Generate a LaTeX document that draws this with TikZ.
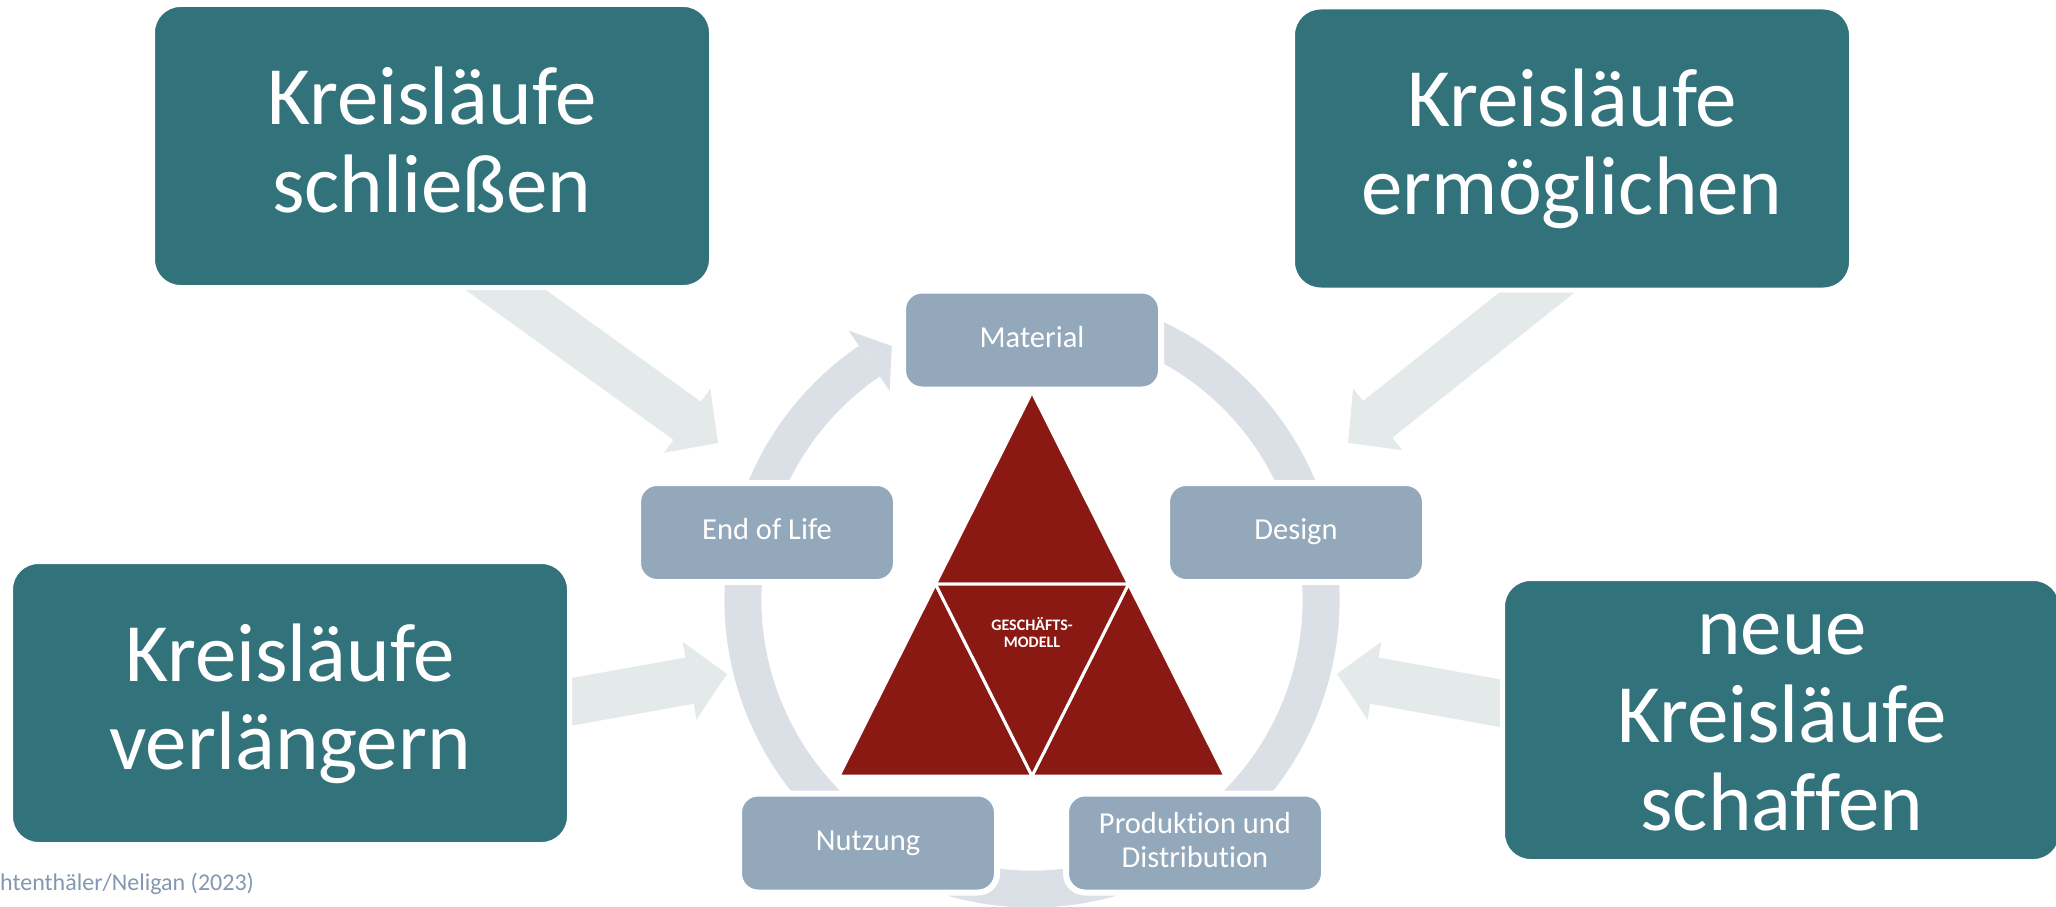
\documentclass[tikz,border=0pt]{standalone}
\usepackage{fontspec}
\setmainfont{Carlito}[Ligatures=NoCommon]
\usetikzlibrary{calc}
\definecolor{tealc}{HTML}{32727B}
\definecolor{boxc}{HTML}{94A8BB}
\definecolor{ringc}{HTML}{DBE0E7}
\definecolor{arrowc}{HTML}{E4EAEA}
\definecolor{redc}{HTML}{8A1913}
\definecolor{creditc}{HTML}{8497B0}
\newcommand\tstrut{\rule[-22pt]{0pt}{88pt}}
\newcommand\sstrut{\rule[-10pt]{0pt}{34pt}}
\newcommand\gstrut{\rule[-4pt]{0pt}{17pt}}
\newcommand\fatarrow[3]{%
  \coordinate (#3b) at ($(#2)!38pt!(#1)$);
  \fill[bigarrow] ($(#1)!23.5pt!90:(#2)$) -- ($(#3b)!23.5pt!90:(#2)$) -- ($(#3b)!39.5pt!90:(#2)$) -- (#2)
    -- ($(#3b)!39.5pt!-90:(#2)$) -- ($(#3b)!23.5pt!-90:(#2)$) -- ($(#1)!23.5pt!-90:(#2)$) -- cycle;}
\begin{document}
\begin{tikzpicture}[x=1pt,y=1pt,
  tealbox/.style={fill=tealc, draw=white, line width=5pt, rounded corners=28pt,
    minimum width=559pt, minimum height=283pt, inner sep=0pt, text=white,
    font=\fontsize{83}{88}\selectfont, align=center},
  smallbox/.style={fill=boxc, draw=white, line width=6pt, rounded corners=19pt,
    minimum width=258pt, minimum height=99pt, inner sep=0pt, text=white,
    font=\fontsize{30.5}{34}\selectfont, align=center},
  ringline/.style={draw=ringc, line width=37pt},
  bigarrow/.style={fill=arrowc},
  tri/.style={fill=redc, draw=white, line width=3pt, line join=miter}]
\useasboundingbox (0,0) rectangle (2056,-907);
% ring (continuous cycle arrow)
\coordinate (C) at (1032,-600);
\draw[ringline] ($(C)+(70:289)$) arc[start angle=70, end angle=-235.75, radius=289];
\fill[ringc] ($(C)+(124.25:253)$) -- ($(C)+(118.9:290)$) -- ($(C)+(124.25:326)$) -- cycle;
% big arrows
\coordinate (tlS) at (442,-244);  \coordinate (tlT) at (718,-443);
\coordinate (trS) at (1614,-231); \coordinate (trT) at (1348,-443);
\coordinate (lmS) at (481,-718);  \coordinate (lmT) at (727,-674);
\coordinate (rmS) at (1583,-718); \coordinate (rmT) at (1337,-674);
\fatarrow{tlS}{tlT}{tl}
\fatarrow{trS}{trT}{tr}
\fatarrow{lmS}{lmT}{lm}
\fatarrow{rmS}{rmT}{rm}
% triangle
\coordinate (A) at (1032,-392);
\coordinate (BL) at (839,-776);
\coordinate (BR) at (1225,-776);
\coordinate (BM) at (1032,-776);
\coordinate (ML) at (935.5,-584);
\coordinate (MR) at (1128.5,-584);
\draw[tri] (A) -- (MR) -- (ML) -- cycle;
\draw[tri] (ML) -- (BM) -- (BL) -- cycle;
\draw[tri] (MR) -- (BR) -- (BM) -- cycle;
\draw[tri] (ML) -- (MR) -- (BM) -- cycle;
\node[text=white, font=\bfseries\fontsize{16}{17}\selectfont, align=center, inner sep=0pt]
  (gm) at (1032,-634) {\gstrut GESCHÄFTS-\\\gstrut MODELL};
% teal boxes
\node[tealbox] (tl) at (432,-146) {\tstrut Kreisläufe\\\tstrut schließen};
\node[tealbox] (tr) at (1572,-148.5) {\tstrut Kreisläufe\\\tstrut ermöglichen};
\node[tealbox] (lm) at (290,-703) {\tstrut Kreisläufe\\\tstrut verlängern};
\node[tealbox] (rm) at (1782,-720) {\tstrut neue\\\tstrut Kreisläufe\\\tstrut schaffen};
% cycle boxes
\node[smallbox] (mat) at (1032,-340) {\sstrut Material};
\node[smallbox] (eol) at (767,-532.5) {\sstrut End of Life};
\node[smallbox] (des) at (1296,-532.5) {\sstrut Design};
\node[smallbox] (nut) at (868,-843) {\sstrut Nutzung};
\node[smallbox] (pro) at (1195,-843) {\sstrut Produktion und\\\sstrut Distribution};
% credit
\node[anchor=base west, inner sep=0pt, text=creditc, font=\fontsize{24}{28}\selectfont]
  (credit) at (0,-890) {htenthäler/Neligan (2023)};
\end{tikzpicture}
\end{document}
